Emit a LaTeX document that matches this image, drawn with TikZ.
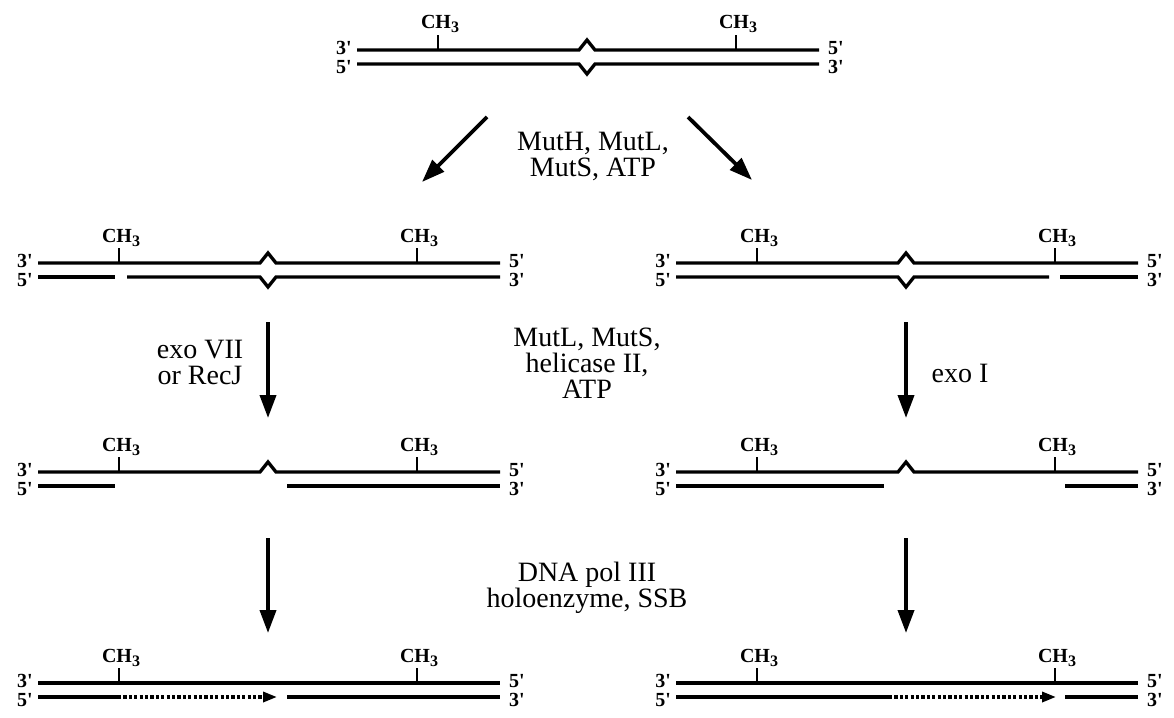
\documentclass[tikz,border=0pt]{standalone}
\usepackage{fontspec}
\setmainfont{Liberation Serif}
\usetikzlibrary{arrows.meta}

% strand ends and methyl groups of one duplex (local coordinates:
% top strand at y=0, bottom strand at y=14, duplex 462 long)
\newcommand\dnaends[1]{%
  \node[endlab, anchor=east] (#1-l3) at (-5,-2) {3\textquotesingle};
  \node[endlab, anchor=east] (#1-l5) at (-5,17) {5\textquotesingle};
  \node[endlab, anchor=west] (#1-r5) at (471,-2) {5\textquotesingle};
  \node[endlab, anchor=west] (#1-r3) at (471,17) {3\textquotesingle};
  \draw[tick] (81,0) -- (81,-15);
  \draw[tick] (379,0) -- (379,-15);
  \node[methyl] (#1-m1) at (83,-21) {CH\raisebox{-4pt}{\fontsize{16}{16}\selectfont 3}};
  \node[methyl] (#1-m2) at (381,-21) {CH\raisebox{-4pt}{\fontsize{16}{16}\selectfont 3}};
}

\tikzset{
  strand/.style={line width=3.3pt, line cap=butt, line join=miter},
  newdna/.style={line width=3.3pt, dash pattern=on 3.2pt off 2.2pt,
    -{Triangle[length=14pt,width=10pt]}},
  tick/.style={line width=2pt},
  endlab/.style={font=\fontsize{20}{20}\selectfont\bfseries, inner sep=0pt},
  methyl/.style={font=\fontsize{20}{20}\selectfont\bfseries, inner sep=0pt, anchor=base},
  enzyme/.style={font=\fontsize{28}{26}\selectfont, align=center, inner sep=0pt},
  flow/.style={line width=3.8pt, -{Triangle[length=23pt,width=16pt]}},
}

\begin{document}
\begin{tikzpicture}[x=1pt, y=-1pt]
\useasboundingbox (0,0) rectangle (1174,717);

% ---- mismatched, hemimethylated duplex
\begin{scope}[shift={(357,50)}]
  \draw[strand] (0,0) -- (222,0) -- (230,-10) -- (238,0) -- (462,0);
  \draw[strand] (0,14) -- (222,14) -- (230,24) -- (238,14) -- (462,14);
  \dnaends{d0}
\end{scope}

% ---- incised duplexes
\begin{scope}[shift={(38,263)}]
  \draw[strand] (0,0) -- (222,0) -- (230,-10) -- (238,0) -- (462,0);
  \draw[strand] (0,14) -- (77,14);
  \draw[strand] (89,14) -- (222,14) -- (230,24) -- (238,14) -- (462,14);
  \dnaends{d1}
\end{scope}
\begin{scope}[shift={(676,263)}]
  \draw[strand] (0,0) -- (222,0) -- (230,-10) -- (238,0) -- (462,0);
  \draw[strand] (0,14) -- (222,14) -- (230,24) -- (238,14) -- (373,14);
  \draw[strand] (384,14) -- (462,14);
  \dnaends{d2}
\end{scope}

% ---- excised duplexes
\begin{scope}[shift={(38,472)}]
  \draw[strand] (0,0) -- (222,0) -- (230,-10) -- (238,0) -- (462,0);
  \draw[strand] (0,14) -- (77,14);
  \draw[strand] (249,14) -- (462,14);
  \dnaends{d3}
\end{scope}
\begin{scope}[shift={(676,472)}]
  \draw[strand] (0,0) -- (222,0) -- (230,-10) -- (238,0) -- (462,0);
  \draw[strand] (0,14) -- (208,14);
  \draw[strand] (389,14) -- (462,14);
  \dnaends{d4}
\end{scope}

% ---- repaired duplexes
\begin{scope}[shift={(38,683)}]
  \draw[strand] (0,0) -- (462,0);
  \draw[strand] (0,14) -- (80,14);
  \draw[newdna] (80,14) -- (239,14);
  \draw[strand] (249,14) -- (462,14);
  \dnaends{d5}
\end{scope}
\begin{scope}[shift={(676,683)}]
  \draw[strand] (0,0) -- (462,0);
  \draw[strand] (0,14) -- (213,14);
  \draw[newdna] (213,14) -- (380,14);
  \draw[strand] (389,14) -- (462,14);
  \dnaends{d6}
\end{scope}

% ---- enzymes
\node[enzyme] (mutH) at (593,156) {MutH, MutL,\\MutS, ATP};
\node[enzyme] (exoVII) at (200,362) {exo VII\\or RecJ};
\node[enzyme] (mutLS) at (587,363) {MutL, MutS,\\helicase II,\\ATP};
\node[enzyme] (exoI) at (960,373) {exo I};
\node[enzyme] (polIII) at (587,588) {DNA pol III\\holoenzyme, SSB};

% ---- reaction arrows
\coordinate (s0l) at (487,117); \coordinate (e0l) at (422,182);
\coordinate (s0r) at (688,117); \coordinate (e0r) at (752,180);
\coordinate (s1l) at (268,322); \coordinate (e1l) at (268,418);
\coordinate (s1r) at (906,322); \coordinate (e1r) at (906,418);
\coordinate (s2l) at (268,538); \coordinate (e2l) at (268,633);
\coordinate (s2r) at (906,538); \coordinate (e2r) at (906,633);
\draw[flow] (s0l) -- (e0l);
\draw[flow] (s0r) -- (e0r);
\draw[flow] (s1l) -- (e1l);
\draw[flow] (s1r) -- (e1r);
\draw[flow] (s2l) -- (e2l);
\draw[flow] (s2r) -- (e2r);
\end{tikzpicture}
\end{document}
